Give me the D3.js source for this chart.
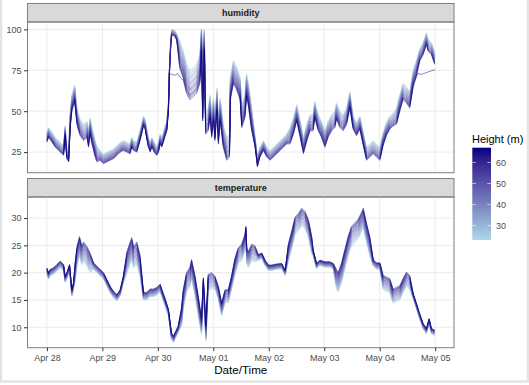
<!DOCTYPE html>
<html>
<head>
<meta charset="utf-8">
<script src="https://cdn.jsdelivr.net/npm/d3@7"></script>
<style>
  html, body { margin: 0; padding: 0; background: #fff; }
  svg { display: block; font-family: "Liberation Sans", Arial, sans-serif; }
</style>
</head>
<body>
<div id="chart"></div>
<script>
// sensor heights (m), light blue = low, navy = high
const heights = [23, 25, 27, 29, 31, 33, 35, 37, 40, 42, 44, 46, 49, 51, 53, 55, 58, 60, 62, 64, 67]

// hours since Apr 28 00:00 and the centre of the bundle
const humHours = [0, 0.7, 2.2, 3.6, 5.8, 7.2, 7.9, 8.6, 9.4, 10.1, 10.8, 12, 13, 13.7, 14.4, 15.9, 17.3, 18, 18.7, 19.5,
  20.2, 20.9, 21.6, 23, 24.5, 26, 27.4, 28.8, 30.3, 31.7, 33.1, 34.6, 36, 36.7, 37.5, 38.9, 40.3, 41, 41.8, 42.5,
  43.2, 43.9, 44.7, 45.4, 46.1, 46.8, 47.6, 48.3, 49, 49.7, 50.4, 51.2, 51.9, 52.6, 53, 53.6, 54, 54.8, 55.5, 56.2,
  57.5, 59, 60.4, 61.9, 63.3, 64.8, 66.2, 66.9, 67.4, 68.1, 68.7, 69.8, 70.6, 71.3, 72.1, 72.7, 73.6, 74.2, 75, 76.3,
  77.8, 79, 79.4, 80.7, 82.1, 83.6, 84.3, 85.7, 86.4, 87.2, 88.6, 90.1, 91.1, 92.2, 93.7, 95.1, 96.6, 98, 99.5, 100.9,
  102.3, 103.8, 105.2, 106.7, 108.1, 109.6, 111, 112.5, 113.9, 115.2, 115.9, 117.4, 118.8, 120.3, 121.7, 123.2, 124.6, 125.3, 126.8, 128.2,
  129.7, 131.1, 132.5, 134, 135.4, 136.9, 138.3, 139.7, 141.2, 142.6, 144.1, 145.5, 146.9, 148.4, 149.8, 151.3, 152.7, 154.1, 155.6, 157,
  158.5, 159.9, 161.3, 162.8, 164.2, 165, 166.4, 167.8]
const humMid = [34, 37, 34, 31, 28, 26, 38, 24, 22, 45, 55, 61, 47, 43, 40, 37, 39, 33, 41, 35,
  31, 27, 24, 23, 21, 22, 23, 24, 26, 28, 29, 28, 27, 31, 29, 28, 35, 39, 44, 42,
  36, 31, 28, 31, 29, 27, 26, 28, 33, 31, 34, 38, 41, 53, 74, 92, 98, 98, 97, 95,
  84, 78, 70, 66, 68, 70, 76, 96, 53, 94, 43, 45, 53, 41, 51, 39, 57, 37, 51, 35,
  27, 29, 64, 74, 70, 64, 47, 53, 66, 60, 45, 31, 19, 25, 29, 25, 23, 25, 27, 29,
  31, 33, 35, 41, 49, 39, 29, 37, 43, 43, 51, 43, 39, 33, 39, 43, 45, 50, 45, 43,
  47, 57, 43, 39, 43, 33, 24, 26, 28, 26, 24, 33, 39, 43, 45, 47, 55, 62, 60, 57,
  70, 76, 84, 88, 94, 90, 88, 82]
// half width of the bundle, as step table
const humSpreadFrom = [0, 10, 22, 50, 53, 57, 68, 90, 104, 132, 150, 160]
const humSpread = [3, 5, 3, 3, 2, 9, 7, 3, 5, 4, 5, 4]
// the 67 m sensor that stays near 72 % while the others saturate
const humStuckHours = [53, 54, 55.5, 56.5, 58, 160.5, 162, 164, 166, 168]
const humStuckVals = [73, 72.5, 72, 73, 70, 73, 72.5, 73.5, 74.5, 75.3]

const tempHours = [0, 0.7, 1.4, 2.9, 4.3, 5.8, 7.2, 7.9, 8.6, 9.8, 10.8, 11.5, 12.2, 13, 14.1, 15.1, 15.9, 17.3, 18.7, 20.2,
  21.6, 23, 24.5, 25.9, 27.4, 28.8, 30.3, 31.7, 33.1, 34.6, 36, 36.7, 37.5, 38.9, 40.3, 41.8, 43.2, 44.7, 46.1, 47.6,
  49, 49.7, 51.2, 52.6, 53.9, 54.8, 55.4, 56.8, 58.3, 59, 60.4, 61.9, 62.6, 64.1, 65.5, 66.9, 67.7, 68.8, 69.8, 71.3,
  72.7, 74.2, 75.6, 77.1, 78.5, 79.9, 81.4, 82.8, 84.3, 85.7, 86.1, 86.5, 87.2, 88.6, 90.1, 91.5, 93, 94.4, 95.9, 97.3,
  99.5, 101.6, 103.1, 104.5, 106, 107.4, 108.8, 110.3, 111.7, 113.2, 114.6, 115.2, 116.7, 118.1, 120.3, 122.4, 123.9, 125.3, 126, 127.5,
  128.9, 130.4, 131.8, 133.3, 134.7, 136.1, 136.9, 138.3, 139.7, 141.2, 142.6, 144.1, 145.5, 146.9, 148.4, 149.8, 151.3, 152.7, 154.1, 155.6,
  157, 158.5, 159.9, 161.3, 162.8, 164.2, 165.4, 166.4, 167.8]
const tempMid = [20.3, 19.4, 20, 20.3, 20.9, 21.5, 20.9, 18.8, 19.4, 20.9, 16.3, 17.6, 20, 23, 24.8, 23.2, 23.8, 23, 21.8, 21.2,
  20.6, 20, 19.4, 18.2, 16.9, 16, 15.4, 16.3, 18.8, 21.8, 23.6, 24.4, 22.8, 23.6, 21.2, 15.7, 15.7, 16.3, 16.3, 16.6,
  17.2, 16.3, 14.5, 12.7, 8.4, 7.8, 8.4, 9.6, 12, 15.1, 18.2, 19.2, 20.6, 17.6, 13.9, 10.2, 17.6, 9.0, 18.2, 18.5,
  18.2, 16.3, 13.3, 15.7, 15.7, 18.2, 21.2, 23.1, 23.7, 25.5, 27, 23, 22.4, 23.7, 23.4, 22.8, 23.1, 21.8, 20.9, 20.9,
  21.1, 21.2, 20, 23.7, 26.1, 28.6, 29.2, 30.2, 29.6, 28, 25, 23.7, 21.2, 21.8, 21.5, 21.5, 21.2, 18.8, 18.2, 20,
  22.4, 24.9, 26.7, 27.3, 28, 29.2, 30, 27.3, 24.9, 21.8, 21.2, 21.2, 18.2, 17.9, 17.6, 15.7, 16, 16.3, 17.6, 18.8,
  18.2, 15.7, 13.9, 12, 10.2, 9.3, 11.1, 9.3, 9]
const tempSpreadFrom = [0, 12, 20, 34, 41, 52, 58, 66, 72, 80, 91, 104, 115, 125, 140, 145, 158]
const tempSpread = [0.6, 1.8, 0.6, 2, 0.7, 0.6, 1.8, 1.5, 1.2, 1.5, 0.5, 1.6, 0.5, 1.8, 0.6, 1.3, 0.5]

const dayTicks = ['Apr 28', 'Apr 29', 'Apr 30', 'May 01', 'May 02', 'May 03', 'May 04', 'May 05']
const humTicks = [25, 50, 75, 100]
const tempTicks = [10, 15, 20, 25, 30]
const legendTicks = [30, 40, 50, 60]

const W = 529, H = 385
const panelX0 = 27.5, panelX1 = 454
const t0 = Date.UTC(2021, 3, 28)
const toDate = h => new Date(t0 + h * 3600e3)

const svg = d3.select('#chart').append('svg')
  .attr('width', W).attr('height', H)
  .attr('viewBox', `0 0 ${W} ${H}`)

svg.append('rect').attr('width', W).attr('height', H).attr('fill', '#fff')
// light window frame round the plot
svg.append('rect').attr('x', 1).attr('y', -2).attr('width', W - 2).attr('height', H - 1.5)
  .attr('fill', 'none').attr('stroke', '#e3e3e3').attr('stroke-width', 2.5)

const x = d3.scaleUtc()
  .domain([toDate(-0.35 * 24), toDate(7.34 * 24)])
  .range([panelX0, panelX1])

const colour = d3.scaleLinear()
  .domain([23.2, 67])
  .range(['#add8e6', '#000080'])
  .interpolate(d3.interpolateLab)

const hMin = d3.min(heights), hMax = d3.max(heights)

function stepLookup(from, vals, h) {
  return vals[Math.max(0, d3.bisectRight(from, h) - 1)]
}

// one series per sensor, placed inside the bundle by its height
function sensorSeries(hours, mid, from, spread, height, sign, cap) {
  const f = (height - hMin) / (hMax - hMin)
  return hours.map((h, i) => {
    let v = mid[i] + sign * stepLookup(from, spread, h) * (2 * f - 1)
    if (cap != null) v = Math.min(cap, v)
    return { h, v }
  })
}

function withStuck(series) {
  const inStuck = h => (h > 52.9 && h < 58.1) || (h > 160.4)
  const pts = series.filter(p => !inStuck(p.h))
  humStuckHours.forEach((h, i) => pts.push({ h, v: humStuckVals[i] }))
  return pts.sort((a, b) => a.h - b.h)
}

const panels = [
  { key: 'humidity', top: 22, bottom: 172.7, stripTop: 3.5, domain: [12.4, 104.5], ticks: humTicks,
    series: heights.map(ht => {
      const s = sensorSeries(humHours, humMid, humSpreadFrom, humSpread, ht, -1, 100)
      return { ht, pts: ht === hMax ? withStuck(s) : s }
    }) },
  { key: 'temperature', top: 197, bottom: 347.7, stripTop: 178.5, domain: [6.26, 33.85], ticks: tempTicks,
    series: heights.map(ht => ({ ht, pts: sensorSeries(tempHours, tempMid, tempSpreadFrom, tempSpread, ht, 1, null) })) }
]

panels.forEach((p, pi) => {
  const y = d3.scaleLinear().domain(p.domain).range([p.bottom, p.top])
  const g = svg.append('g')

  // strip
  g.append('rect')
    .attr('x', panelX0).attr('y', p.stripTop)
    .attr('width', panelX1 - panelX0).attr('height', p.top - p.stripTop)
    .attr('fill', '#d9d9d9').attr('stroke', '#7f7f7f').attr('stroke-width', 1)
  g.append('text')
    .attr('x', (panelX0 + panelX1) / 2).attr('y', (p.stripTop + p.top) / 2 + 3.3)
    .attr('text-anchor', 'middle')
    .attr('font-size', '9px').attr('font-weight', 'bold').attr('fill', '#1a1a1a')
    .text(p.key)

  // grid
  g.append('g').selectAll('line.hg').data(p.ticks).join('line')
    .attr('x1', panelX0).attr('x2', panelX1)
    .attr('y1', d => y(d)).attr('y2', d => y(d))
    .attr('stroke', '#ebebeb').attr('stroke-width', 1)
  g.append('g').selectAll('line.vg').data(dayTicks).join('line')
    .attr('x1', (d, i) => x(toDate(i * 24))).attr('x2', (d, i) => x(toDate(i * 24)))
    .attr('y1', p.top).attr('y2', p.bottom)
    .attr('stroke', '#ebebeb').attr('stroke-width', 1)

  // lines, low sensors first so the dark ones sit on top
  const line = d3.line().x(d => x(toDate(d.h))).y(d => y(d.v))
  g.append('g')
    .selectAll('path').data(p.series).join('path')
    .attr('d', d => line(d.pts))
    .attr('fill', 'none')
    .attr('stroke', d => colour(d.ht))
    .attr('stroke-width', 0.8)
    .attr('stroke-opacity', 0.6)
    .attr('stroke-linejoin', 'round')

  // border
  g.append('rect')
    .attr('x', panelX0).attr('y', p.top)
    .attr('width', panelX1 - panelX0).attr('height', p.bottom - p.top)
    .attr('fill', 'none').attr('stroke', '#7f7f7f').attr('stroke-width', 1)

  // y axis
  const ya = g.append('g')
    .attr('transform', `translate(${panelX0},0)`)
    .call(d3.axisLeft(y).tickValues(p.ticks).tickSize(3.5).tickPadding(2.5))
  ya.select('.domain').remove()
  ya.selectAll('line').attr('stroke', '#333')
  ya.selectAll('text').attr('font-size', '9px').attr('fill', '#4d4d4d').attr('font-family', null)

  if (pi === 1) {
    const xa = g.append('g')
      .attr('transform', `translate(0,${p.bottom})`)
      .call(d3.axisBottom(x).tickValues(dayTicks.map((d, i) => toDate(i * 24)))
        .tickFormat((d, i) => dayTicks[i]).tickSize(3.5).tickPadding(3))
    xa.select('.domain').remove()
    xa.selectAll('line').attr('stroke', '#333')
    xa.selectAll('text').attr('font-size', '9px').attr('fill', '#4d4d4d').attr('font-family', null)
  }
})

// axis title
svg.append('text')
  .attr('x', (panelX0 + panelX1) / 2).attr('y', 374)
  .attr('text-anchor', 'middle').attr('font-size', '11.6px').attr('fill', '#000')
  .text('Date/Time')

// legend
const lg = svg.append('g')
lg.append('text').attr('x', 472).attr('y', 142.5)
  .attr('font-size', '11px').attr('fill', '#000').text('Height (m)')

const barTop = 147.7, barBottom = 240, barX = 472.3, barW = 18.7
const ly = d3.scaleLinear().domain([23.2, 67]).range([barBottom, barTop])
const defs = svg.append('defs')
const grad = defs.append('linearGradient').attr('id', 'hgrad')
  .attr('x1', 0).attr('y1', 1).attr('x2', 0).attr('y2', 0)
d3.range(0, 1.0001, 0.1).forEach(t => {
  grad.append('stop').attr('offset', t).attr('stop-color', colour(23.2 + t * (67 - 23.2)))
})
lg.append('rect').attr('x', barX).attr('y', barTop)
  .attr('width', barW).attr('height', barBottom - barTop).attr('fill', 'url(#hgrad)')
lg.selectAll('line.tl').data(legendTicks).join('line')
  .attr('x1', barX).attr('x2', barX + 3.7)
  .attr('y1', d => ly(d)).attr('y2', d => ly(d))
  .attr('stroke', '#fff').attr('stroke-width', 0.6)
lg.selectAll('line.tr').data(legendTicks).join('line')
  .attr('x1', barX + barW - 3.7).attr('x2', barX + barW)
  .attr('y1', d => ly(d)).attr('y2', d => ly(d))
  .attr('stroke', '#fff').attr('stroke-width', 0.6)
lg.selectAll('text.lt').data(legendTicks).join('text')
  .attr('x', 496).attr('y', d => ly(d) + 3.2)
  .attr('font-size', '9px').attr('fill', '#4d4d4d').text(d => d)
</script>
</body>
</html>
